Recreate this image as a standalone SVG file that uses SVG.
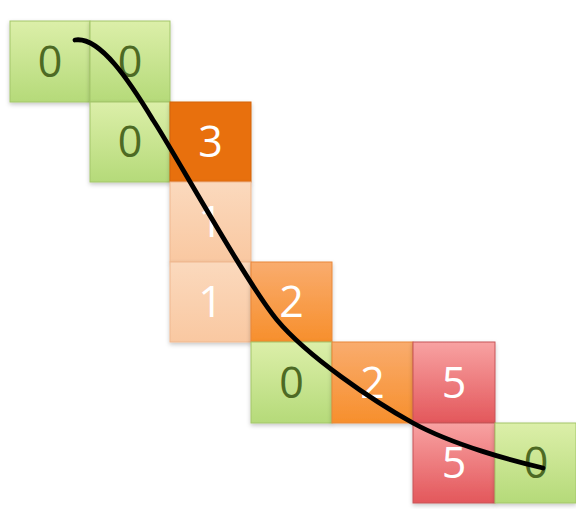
<svg xmlns="http://www.w3.org/2000/svg" width="576" height="509" viewBox="0 0 576 509">
  <defs>
    <linearGradient id="gGreen" x1="0" y1="0" x2="0" y2="1">
      <stop offset="0" stop-color="#DCEFA9"/>
      <stop offset="1" stop-color="#B5DA79"/>
    </linearGradient>
    <linearGradient id="gPeach" x1="0" y1="0" x2="0" y2="1">
      <stop offset="0" stop-color="#FBD9BD"/>
      <stop offset="1" stop-color="#F9C8A1"/>
    </linearGradient>
    <linearGradient id="gOrange" x1="0" y1="0" x2="0" y2="1">
      <stop offset="0" stop-color="#F9AC6E"/>
      <stop offset="1" stop-color="#F78F2C"/>
    </linearGradient>
    <linearGradient id="gRed" x1="0" y1="0" x2="0" y2="1">
      <stop offset="0" stop-color="#F8A2A2"/>
      <stop offset="1" stop-color="#E3575B"/>
    </linearGradient>
    <filter id="shadow" x="-10%" y="-10%" width="120%" height="125%">
      <feDropShadow dx="0" dy="2" stdDeviation="2" flood-color="#000" flood-opacity="0.22"/>
    </filter>
  </defs>
  <style>
    .cell rect { stroke-width: 1; filter: url(#shadow); }
    .green rect { fill: url(#gGreen); stroke: #A3C66A; }
    .peach rect { fill: url(#gPeach); stroke: #EFB88F; }
    .orange rect { fill: url(#gOrange); stroke: #E9883A; }
    .dark rect { fill: #E8700E; stroke: #D4620A; }
    .red rect { fill: url(#gRed); stroke: #C65458; }
    .cell text { font-family: "Open Sans", "Liberation Sans", sans-serif; font-size: 43px; text-anchor: middle; fill: #FFFFFF; }
    .green text { fill: #4D6A24; }
    .curve { fill: none; stroke: #000000; stroke-width: 4.8; stroke-linecap: round; stroke-linejoin: round; }
  </style>

  <rect width="576" height="509" fill="#FFFFFF"/>

  <!-- row 0 -->
  <g id="c00" class="cell green"><rect x="10" y="21" width="80" height="81"/><text x="50" y="77">0</text></g>
  <g id="c01" class="cell green"><rect x="90" y="21" width="80" height="81"/><text x="130" y="77">0</text></g>
  <!-- row 1 -->
  <g id="c11" class="cell green"><rect x="90" y="102" width="80" height="80"/><text x="130" y="157">0</text></g>
  <g id="c12" class="cell dark"><rect x="170" y="102" width="81" height="80"/><text x="210.5" y="157">3</text></g>
  <!-- row 2 -->
  <g id="c22" class="cell peach"><rect x="170" y="182" width="81" height="80"/><text x="210.5" y="237">1</text></g>
  <!-- row 3 -->
  <g id="c32" class="cell peach"><rect x="170" y="262" width="81" height="80"/><text x="210.5" y="317">1</text></g>
  <g id="c33" class="cell orange"><rect x="251" y="262" width="81" height="80"/><text x="291.5" y="317">2</text></g>
  <!-- row 4 -->
  <g id="c43" class="cell green"><rect x="251" y="342" width="81" height="81"/><text x="291.5" y="398">0</text></g>
  <g id="c44" class="cell orange"><rect x="332" y="342" width="81" height="81"/><text x="372.5" y="398">2</text></g>
  <g id="c45" class="cell red"><rect x="413" y="342" width="82" height="81"/><text x="454" y="398">5</text></g>
  <!-- row 5 -->
  <g id="c55" class="cell red"><rect x="413" y="423" width="82" height="80"/><text x="454" y="478">5</text></g>
  <g id="c56" class="cell green"><rect x="495" y="423" width="81" height="80"/><text x="536" y="478">0</text></g>

  <!-- path through the table -->
  <g id="connectors">
    <path class="curve" d="M75,40 C100,36 130,82 153,120 C170,145 247,284 277,320 C307,356 373,401 413,423 C453,445 513,461 543,468"/>
  </g>
</svg>
